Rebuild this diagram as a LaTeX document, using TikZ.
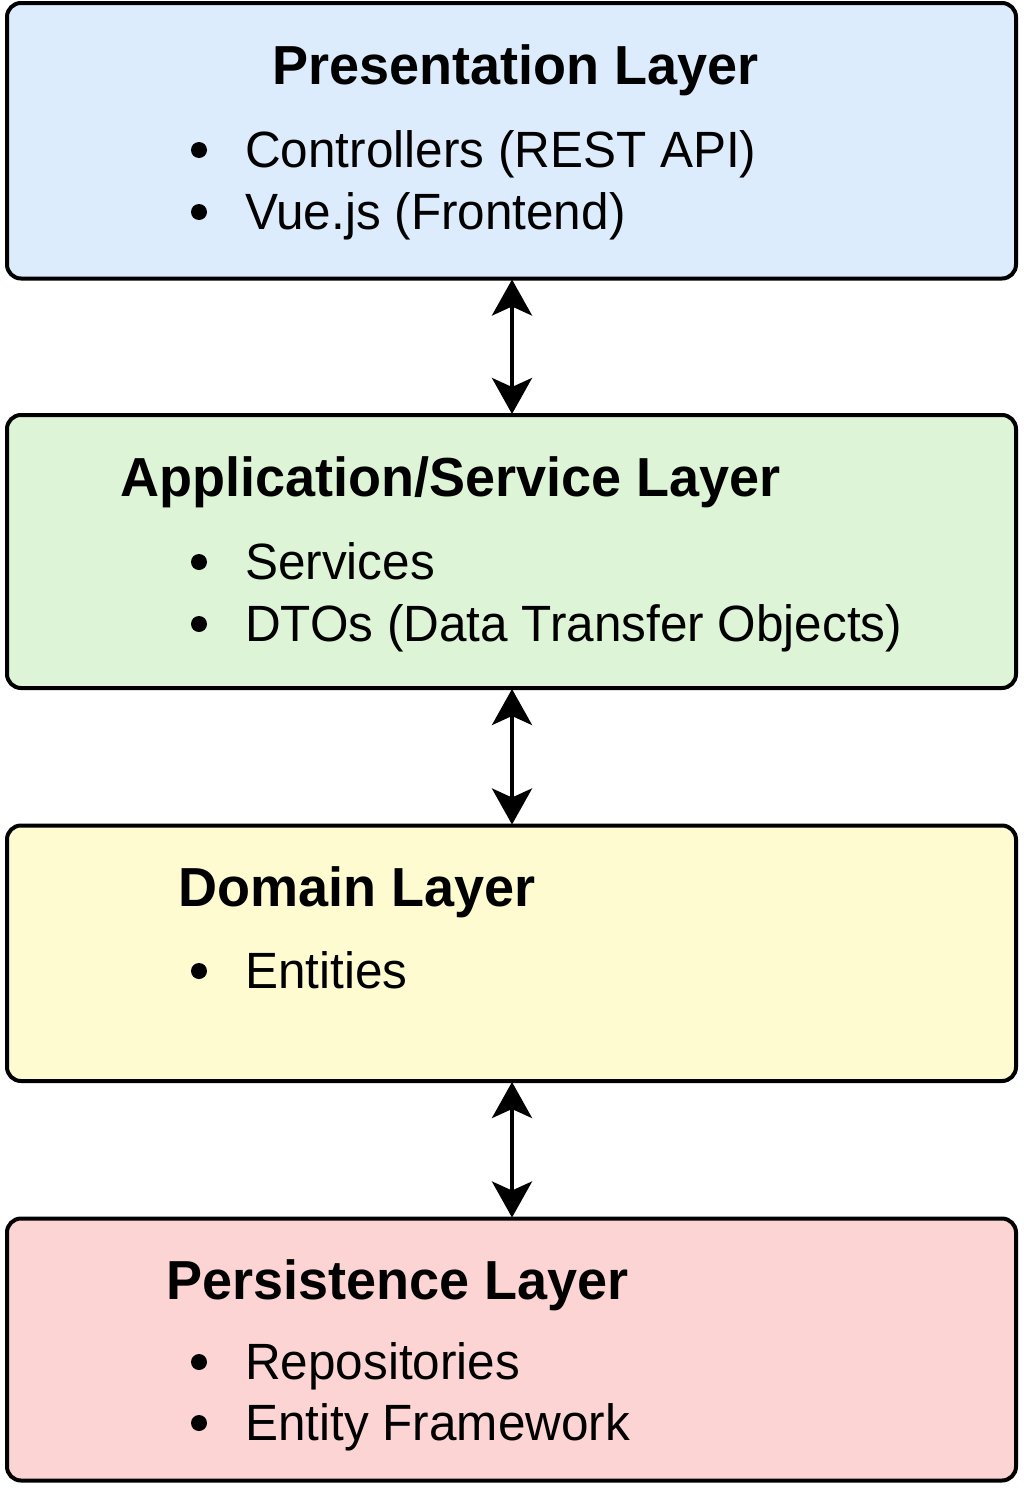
\documentclass[tikz,border=0pt]{standalone}
\usepackage{fontspec}
\setmainfont{Liberation Sans}
\usetikzlibrary{arrows.meta}
\definecolor{cblue}{RGB}{220,236,252}
\definecolor{cgreen}{RGB}{221,245,214}
\definecolor{cyellow}{RGB}{254,251,208}
\definecolor{cpink}{RGB}{252,212,212}
\newcommand{\ttltext}[1]{\scalebox{0.982}[1]{#1}}
\newcommand{\itmtext}[1]{\scalebox{0.970}[1]{#1}}
\tikzset{
  layer/.style={draw=black, line width=4pt, rounded corners=14pt, minimum width=1009pt, inner sep=0pt},
  ttl/.style={anchor=base west, inner sep=0pt, font=\fontsize{55}{66}\selectfont\bfseries},
  itm/.style={anchor=base west, inner sep=0pt, font=\fontsize{51}{61}\selectfont},
  bul/.style={circle, fill=black, inner sep=0pt, minimum size=16pt},
  link/.style={line width=4pt, {Stealth[length=36pt,width=40pt,inset=9pt]}-{Stealth[length=36pt,width=40pt,inset=9pt]}, shorten <=-1pt, shorten >=-1pt}
}
\begin{document}
\begin{tikzpicture}[x=1pt,y=-1pt]
\useasboundingbox (0,0) rectangle (1024,1491);
\fill[white] (0,0) rectangle (1024,1491);
% boxes
\node[layer, fill=cblue, minimum height=275.5pt] (p) at (511.5,140.75) {};
\node[layer, fill=cgreen, minimum height=273pt] (a) at (511.5,551.5) {};
\node[layer, fill=cyellow, minimum height=255.5pt] (d) at (511.5,953.25) {};
\node[layer, fill=cpink, minimum height=262pt] (r) at (511.5,1349.5) {};
% presentation
\node[ttl] (pt) at (272,84) {\ttltext{Presentation Layer}};
\node[bul] (pb1) at (199,150) {};
\node[itm] (pi1) at (245,167) {\itmtext{Controllers (REST API)}};
\node[bul] (pb2) at (199,212) {};
\node[itm] (pi2) at (245,229) {\itmtext{Vue.js (Frontend)}};
% application
\node[ttl] (at) at (120,496) {\ttltext{Application/Service Layer}};
\node[bul] (ab1) at (199,562) {};
\node[itm] (ai1) at (245,579) {\itmtext{Services}};
\node[bul] (ab2) at (199,624) {};
\node[itm] (ai2) at (245,641) {\itmtext{DTOs (Data Transfer Objects)}};
% domain
\node[ttl] (dt) at (178,906) {\ttltext{Domain Layer}};
\node[bul] (db1) at (199,971) {};
\node[itm] (di1) at (245,988) {\itmtext{Entities}};
% persistence
\node[ttl] (rt) at (166,1299) {\ttltext{Persistence Layer}};
\node[bul] (rb1) at (199,1362) {};
\node[itm] (ri1) at (245,1379) {\itmtext{Repositories}};
\node[bul] (rb2) at (199,1423) {};
\node[itm] (ri2) at (245,1440) {\itmtext{Entity Framework}};
% arrows
\draw[link] (p.south -| 512,0) -- (a.north -| 512,0);
\draw[link] (a.south -| 512,0) -- (d.north -| 512,0);
\draw[link] (d.south -| 512,0) -- (r.north -| 512,0);
\end{tikzpicture}
\end{document}
